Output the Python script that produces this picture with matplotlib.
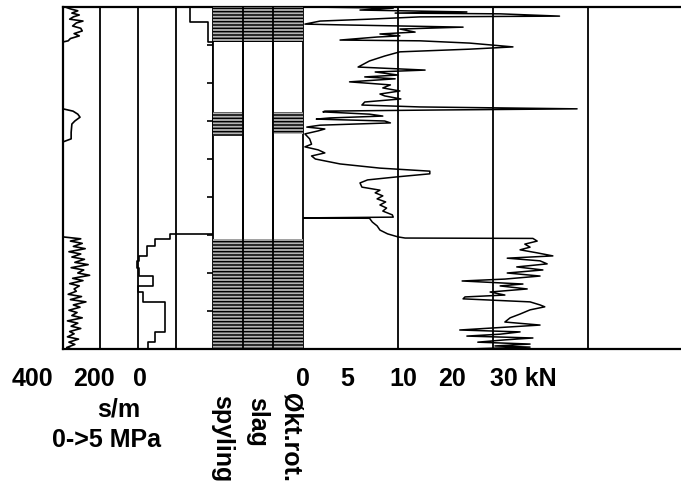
import numpy as np
import matplotlib
matplotlib.use("Agg")
import matplotlib.pyplot as plt

plt.rcParams['font.family'] = ['Liberation Sans', 'DejaVu Sans']
plt.rcParams['hatch.linewidth'] = 1.1

W, H = 681, 485
TOP, BOT = 8, 350

# ---- data --------------------------------------------------------------
depth_ticks = [1, 2, 3, 4, 5, 6, 7, 8, 9]

# flushing pressure (MPa), three runs where flushing is on
p_depth_1 = [0.0, 0.05, 0.1, 0.16, 0.21, 0.26, 0.32, 0.37, 0.42, 0.5, 0.56, 0.63, 0.7, 0.76, 0.83, 0.89, 0.92]
p_val_1 = [0.3, 1.0, 2.0, 1.2, 2.2, 1.4, 0.9, 2.7, 1.8, 1.3, 2.4, 2.6, 1.5, 2.2, 1.0, 0.7, 0.0]
p_depth_2 = [2.68, 2.74, 2.82, 2.9, 3.0, 3.08, 3.3, 3.47, 3.55]
p_val_2 = [0.0, 1.35, 2.0, 2.3, 1.6, 1.2, 1.1, 1.1, 0.0]
p_depth_3 = [6.05, 6.1, 6.16, 6.22, 6.3, 6.36, 6.44, 6.5, 6.58, 6.64, 6.72, 6.78, 6.86, 6.92,
             7.0, 7.06, 7.14, 7.2, 7.28, 7.34, 7.42, 7.48, 7.56, 7.62, 7.7, 7.76, 7.84, 7.9,
             7.98, 8.04, 8.12, 8.18, 8.26, 8.32, 8.4, 8.46, 8.54, 8.6, 8.68, 8.74, 8.82, 8.88, 8.96, 9.0]
p_val_3 = [0.0, 2.4, 1.0, 2.6, 1.4, 3.0, 0.8, 2.4, 1.2, 2.9, 1.6, 3.4, 1.1, 2.8,
           2.0, 3.6, 1.3, 2.7, 0.9, 2.2, 1.5, 1.8, 0.7, 2.5, 1.0, 3.1, 1.4, 2.3,
           0.8, 1.9, 1.2, 2.6, 0.6, 2.0, 1.1, 2.4, 0.9, 1.5, 0.6, 2.1, 0.8, 1.6, 0.5, 1.2]

# penetration time (s/m), constant over depth intervals
s_top = [0.0, 0.39, 0.92, 5.97, 6.1, 6.29, 6.55, 6.68, 6.86, 7.08, 7.34, 7.5, 7.75, 8.55, 8.82]
s_bot = [0.39, 0.92, 5.97, 6.1, 6.29, 6.55, 6.68, 6.86, 7.08, 7.34, 7.5, 7.75, 8.55, 8.82, 9.0]
s_val = [61, 13, 0, 115, 155, 176, 197, 203, 197, 160, 200, 187, 128, 155, 173]

# hatched intervals (top, bottom) per column
hatch_cols = ['spyling', 'slag', 'Økt.rot.']
spyling = [(0.0, 0.92), (2.76, 3.4), (6.1, 9.0)]
slag = [(0.0, 0.92), (6.1, 9.0)]
okt_rot = [(0.0, 0.92), (2.76, 3.34), (6.1, 9.0)]

# push force (kN)
f_depth = [0.0, 0.03, 0.08, 0.13, 0.16, 0.18, 0.24, 0.26, 0.32, 0.37, 0.45, 0.47, 0.53, 0.58, 0.66,
           0.71, 0.76, 0.79, 0.87, 0.89, 0.95, 1.05, 1.11, 1.18, 1.29, 1.42, 1.58, 1.66, 1.71, 1.79,
           1.84, 1.89, 1.97, 2.05, 2.13, 2.21, 2.29, 2.34, 2.42, 2.5, 2.58, 2.63, 2.68, 2.71, 2.74,
           2.76, 2.82, 2.87, 2.92, 2.95, 3.0, 3.05, 3.11, 3.16, 3.21, 3.26, 3.34, 3.47, 3.61, 3.68,
           3.76, 3.84, 3.92, 4.0, 4.13, 4.24, 4.32, 4.39, 4.47, 4.55, 4.63, 4.74, 4.82, 4.89, 4.97,
           5.05, 5.13, 5.21, 5.29, 5.37, 5.47, 5.53, 5.55, 5.56, 5.66, 5.76, 5.87, 5.97, 6.05, 6.08,
           6.09, 6.16, 6.24, 6.32, 6.39, 6.47, 6.55, 6.61, 6.68, 6.76, 6.84, 6.92, 7.0, 7.08, 7.16,
           7.21, 7.29, 7.34, 7.42, 7.5, 7.58, 7.63, 7.68, 7.76, 7.84, 7.89, 7.97, 8.08, 8.18, 8.29,
           8.37, 8.45, 8.5, 8.55, 8.61, 8.66, 8.71, 8.76, 8.82, 8.87, 8.92, 8.95, 9.0]
f_val = [0.7, 9.5, 6.0, 24.5, 9.7, 31.5, 44.0, 14.6, 7.0, 1.8, 0.2, 3.9, 23.7, 10.4, 13.6,
         8.1, 10.4, 7.8, 3.9, 14.6, 25.1, 34.2, 25.0, 10.4, 8.6, 7.0, 5.8, 15.7, 7.6, 10.0,
         6.5, 9.7, 4.9, 9.2, 8.4, 10.4, 8.1, 8.6, 10.6, 6.5, 6.2, 14.6, 47.7, 18.8, 2.3,
         2.1, 7.0, 8.4, 2.8, 1.4, 8.6, 9.2, 1.8, 0.4, 2.3, 1.6, 0.2, 0.7, 0.9, 0.2,
         1.6, 2.3, 0.9, 1.3, 3.9, 8.1, 16.7, 16.7, 9.9, 6.8, 6.0, 6.2, 8.1, 7.6, 8.4,
         7.8, 8.7, 8.1, 8.8, 8.4, 9.4, 9.5, 0.0, 7.0, 7.3, 7.8, 8.1, 8.9, 10.0, 11.5,
         38.4, 39.3, 36.7, 37.8, 35.7, 39.3, 42.6, 33.0, 39.9, 41.4, 35.0, 40.5, 33.0, 39.9, 32.5,
         23.5, 36.3, 31.5, 37.2, 29.4, 32.5, 24.1, 23.7, 37.8, 39.9, 40.9, 37.8, 35.7, 33.6, 32.5,
         39.9, 29.4, 23.0, 35.7, 31.5, 24.5, 38.4, 32.5, 26.8, 37.8, 30.4, 37.8, 24.5]
kn_breaks = [0, 10, 30, 50]

# bottom labels: (text, x px, y px)
left_labels = [('400', 32), ('200', 94), ('0', 140)]
kn_labels = [('0', 303), ('5', 347), ('10', 403), ('20', 452)]
unit_labels = [('s/m', 119, 410), ('0->5 MPa', 107, 440)]
rot_labels = [('spyling', 222, 395), ('slag', 257, 397), ('Økt.rot.', 290, 393)]
col_edges = [100, 138, 176, 213, 243, 273, 303, 398, 493, 588]


def box(x0, x1):
    return [x0 / W, (H - BOT) / H, (x1 - x0) / W, (BOT - TOP) / H]


fig = plt.figure(figsize=(W / 100, H / 100), dpi=100)

# frame and column lines
ax = fig.add_axes(box(63, 681))
ax.set_xlim(63, 681)
ax.set_ylim(9, 0)
for e in col_edges:
    ax.axvline(e, color='black', lw=1.3)
ax.spines['right'].set_visible(False)
for s in ['left', 'top', 'bottom']:
    ax.spines[s].set_linewidth(1.6)
ax.set_xticks([])
ax.set_yticks([])

# flushing pressure
ax_p = fig.add_axes(box(63, 100))
ax_p.set_xlim(0, 5)
ax_p.set_ylim(9, 0)
for d, v in [(p_depth_1, p_val_1), (p_depth_2, p_val_2), (p_depth_3, p_val_3)]:
    ax_p.plot(v, d, color='black', lw=1.2)
ax_p.axis('off')

# penetration time, step curve
ax_s = fig.add_axes(box(63, 213))
ax_s.set_xlim(400, 0)
ax_s.set_ylim(9, 0)
sx, sy = [], []
for t, b, v in zip(s_top, s_bot, s_val):
    sx += [v, v]
    sy += [t, b]
ax_s.plot(sx, sy, color='black', lw=1.2)
ax_s.axis('off')

# hatched columns
ax_h = fig.add_axes(box(213, 303))
ax_h.set_xlim(0, 3)
ax_h.set_ylim(9, 0)
for i, ivals in enumerate([spyling, slag, okt_rot]):
    tops = [a for a, b in ivals]
    hgts = [b - a for a, b in ivals]
    ax_h.bar([i] * len(ivals), hgts, bottom=tops, width=1, align='edge',
             facecolor='#b4b4b4', edgecolor='black', hatch='-----', linewidth=0)
for x in [1, 2]:
    ax_h.axvline(x, color='black', lw=1.3)
ax_h.patch.set_alpha(0)
for s in ax_h.spines.values():
    s.set_visible(False)
ax_h.set_xticks([])
ax_h.set_yticks(depth_ticks)
ax_h.set_yticklabels([])
ax_h.tick_params(axis='y', direction='out', length=4, width=1.2)

# push force, piecewise scale 0-10-30-50 kN
ax_f = fig.add_axes(box(303, 588))


def fwd(v):
    return np.interp(v, kn_breaks, [0, 1, 2, 3])


def inv(u):
    return np.interp(u, [0, 1, 2, 3], kn_breaks)


ax_f.set_xscale('function', functions=(fwd, inv))
ax_f.set_xlim(0, 50)
ax_f.set_ylim(9, 0)
ax_f.plot(f_val, f_depth, color='black', lw=1.1)
ax_f.axis('off')

# labels
fs = 18
for t, x in left_labels + kn_labels:
    fig.text(x / W, 1 - 379 / H, t, fontsize=fs, fontweight='bold', ha='center', va='center')
fig.text(490 / W, 1 - 379 / H, '30 kN', fontsize=fs, fontweight='bold', ha='left', va='center')
for t, x, y in unit_labels:
    fig.text(x / W, 1 - y / H, t, fontsize=fs, fontweight='bold', ha='center', va='center')
for t, x, y in rot_labels:
    fig.text(x / W, 1 - y / H, t, fontsize=fs, fontweight='bold', ha='center', va='top',
             rotation=270)

fig.savefig('out.png', dpi=100)
